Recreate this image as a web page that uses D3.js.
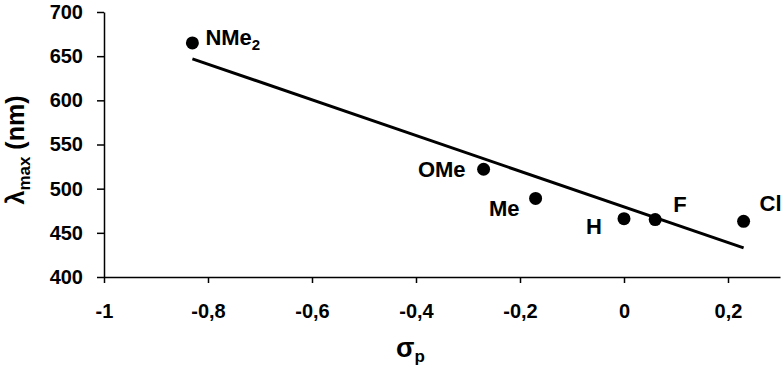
<!DOCTYPE html>
<html>
<head>
<meta charset="utf-8">
<script src="https://cdn.jsdelivr.net/npm/d3@7"></script>
<style>
  body { margin: 0; background: #fff; }
  text { font-family: "Liberation Sans", Arial, sans-serif; font-weight: bold; fill: #000; }
</style>
</head>
<body>
<svg id="chart" width="784" height="372"></svg>
<script>
// substituent names, sigma_p values and lambda_max (nm)
const labels = ["NMe", "OMe", "Me", "H", "F", "Cl"]
const sigmaP = [-0.83, -0.27, -0.17, 0, 0.06, 0.23]
const lambdaMax = [665, 522, 489, 466, 465, 463]
// fitted line endpoints
const fitX = [-0.83, 0.23]
const fitY = [647, 433]
const xTicks = [-1, -0.8, -0.6, -0.4, -0.2, 0, 0.2]
const yTicks = [400, 450, 500, 550, 600, 650, 700]

const svg = d3.select("#chart")

const x = d3.scaleLinear().domain([-1, 0.3]).range([104, 780])
const y = d3.scaleLinear().domain([400, 700]).range([277, 12])

//comma decimal like the original
const fmt = d => String(d).replace(".", ",")

svg.append("g")
    .attr("transform", `translate(0,${y(400)})`)
    .call(d3.axisBottom(x).tickValues(xTicks).tickSize(6).tickSizeOuter(0).tickPadding(21).tickFormat(fmt))
svg.append("g")
    .attr("transform", `translate(${x(-1)},0)`)
    .call(d3.axisLeft(y).tickValues(yTicks).tickSize(7).tickSizeOuter(0).tickPadding(14))

svg.selectAll(".domain, .tick line").attr("stroke", "#000").attr("stroke-width", 1.5)
svg.selectAll(".tick text").style("font-size", "20px").style("font-family", "Liberation Sans, Arial").style("font-weight", "bold")

// regression line
svg.append("line")
    .attr("x1", x(fitX[0])).attr("y1", y(fitY[0]))
    .attr("x2", x(fitX[1])).attr("y2", y(fitY[1]))
    .attr("stroke", "#000").attr("stroke-width", 3)

const pts = labels.map((l, i) => ({label: l, sx: sigmaP[i], ly: lambdaMax[i]}))

svg.append("g").selectAll("circle")
    .data(pts)
    .enter()
    .append("circle")
        .attr("cx", d => x(d.sx))
        .attr("cy", d => y(d.ly))
        .attr("r", 6.5)
        .attr("fill", "#000")

// label offsets relative to each point
const off = {
    NMe: [13, 2, "start"],
    OMe: [-18, 8, "end"],
    Me: [-16, 18, "end"],
    H: [-22, 15, "end"],
    F: [18, -8, "start"],
    Cl: [16, -10, "start"]
}

const lab = svg.append("g").selectAll("text")
    .data(pts)
    .enter()
    .append("text")
        .attr("x", d => x(d.sx) + off[d.label][0])
        .attr("y", d => y(d.ly) + off[d.label][1])
        .attr("text-anchor", d => off[d.label][2])
        .style("font-size", "22px")
        .text(d => d.label)
lab.filter(d => d.label === "NMe").append("tspan")
    .attr("dy", 5).style("font-size", "15px").text("2")

// axis titles
const yt = svg.append("text")
    .attr("transform", "translate(24,150) rotate(-90)")
    .attr("text-anchor", "middle")
    .style("font-size", "25px")
yt.append("tspan").text("λ")
yt.append("tspan").attr("dy", 6).style("font-size", "17px").text("max")
yt.append("tspan").attr("dy", -6).text(" (nm)")

const xt = svg.append("text")
    .attr("x", 396).attr("y", 357)
    .style("font-size", "27px")
    .text("σ")
xt.append("tspan").attr("dy", 5).style("font-size", "17px").text("p")
</script>
</body>
</html>
